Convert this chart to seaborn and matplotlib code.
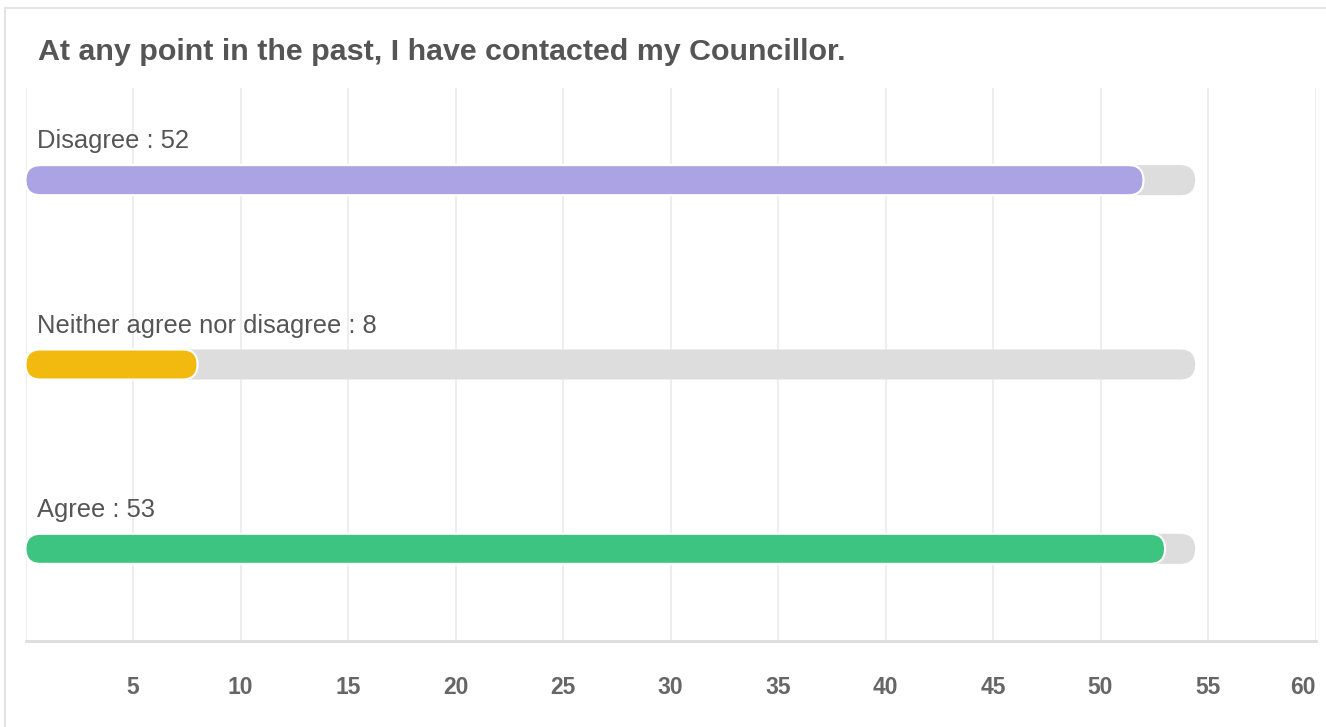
import matplotlib

matplotlib.use("Agg", force=True)
import matplotlib.pyplot as plt
import pandas as pd
import seaborn as sns
from matplotlib.patches import FancyBboxPatch

TITLE = "At any point in the past, I have contacted my Councillor."
categories = ["Disagree", "Neither agree nor disagree", "Agree"]
counts = [52, 8, 53]
colors = ["#ACA3E4", "#F2B90F", "#3DC481"]
track_max = 54.4
ticks = [5, 10, 15, 20, 25, 30, 35, 40, 45, 50, 55, 60]

TEXT = "#555555"
TRACK = "#DDDDDD"


def round_bars(ax, patches, edge, lw, z):
    # swap seaborn's rectangles for pill shaped ones
    fig = ax.figure
    fig_w, fig_h = fig.get_size_inches() * fig.dpi
    pos = ax.get_position()
    x0, x1 = ax.get_xlim()
    y0, y1 = ax.get_ylim()
    aspect = (abs(y1 - y0) / (pos.height * fig_h)) / ((x1 - x0) / (pos.width * fig_w))
    for p in list(patches):
        x, y, w, h = p.get_x(), p.get_y(), p.get_width(), p.get_height()
        fc = p.get_facecolor()
        p.remove()
        if w <= 0:
            continue
        ax.add_patch(FancyBboxPatch(
            (x, y), w, h,
            boxstyle=f"round,pad=0,rounding_size={h / aspect / 2}",
            mutation_aspect=aspect, facecolor=fc, edgecolor=edge,
            linewidth=lw, zorder=z,
        ))


sns.set_theme(style="white")
plt.rcParams["font.family"] = ["Liberation Sans", "DejaVu Sans"]

df = pd.DataFrame({"category": categories, "count": counts, "track": [track_max] * len(categories)})

fig = plt.figure(figsize=(13.26, 7.27), dpi=100)
ax = fig.add_axes([25.5 / 1326, 1 - 641 / 727, 1290 / 1326, 553 / 727])

sns.barplot(data=df, y="category", x="track", order=categories, color=TRACK,
            saturation=1, width=0.163, ax=ax)
n_track = len(ax.patches)
sns.barplot(data=df, y="category", x="count", order=categories, hue="category",
            palette=colors, saturation=1, width=0.163, legend=False, ax=ax)
ax.set_xlim(0, 60)
ax.set_ylim(2.5, -0.5)
track_bars = ax.patches[:n_track]
value_bars = ax.patches[n_track:]
round_bars(ax, track_bars, "none", 0, 1)
round_bars(ax, value_bars, "white", 1.5, 3)

for i, (cat, val) in enumerate(zip(categories, counts)):
    ax.text(0.55, i - 0.21, f"{cat} : {val}", fontsize=18.4, color=TEXT,
            ha="left", va="center")

ax.set_xticks(ticks)
ax.set_xticklabels([str(t) for t in ticks], fontsize=16.5, fontweight="bold", color="#666666")
ax.get_xticklabels()[-1].set_ha("right")
ax.tick_params(axis="x", length=0, pad=25.5)
ax.set_yticks([])
ax.set_xlabel("")
ax.set_ylabel("")
for t in [0] + ticks:
    ax.axvline(t, color="#EBEBEB", linewidth=1.2, zorder=0)
for s in ["top", "right", "left"]:
    ax.spines[s].set_visible(False)
ax.spines["bottom"].set_color("#DDDDDD")
ax.spines["bottom"].set_linewidth(2)

fig.text(38 / 1326, 1 - 51.5 / 727, TITLE, fontsize=21.9, fontweight="bold", color=TEXT,
         ha="left", va="center")

# card outline
fig.add_artist(plt.Line2D([5 / 1326, 1], [1 - 8 / 727] * 2, color="#E3E3E3", linewidth=1.5))
fig.add_artist(plt.Line2D([5 / 1326] * 2, [0, 1 - 8 / 727], color="#E3E3E3", linewidth=1.5))

fig.savefig("out.png", dpi=100, facecolor="white")
